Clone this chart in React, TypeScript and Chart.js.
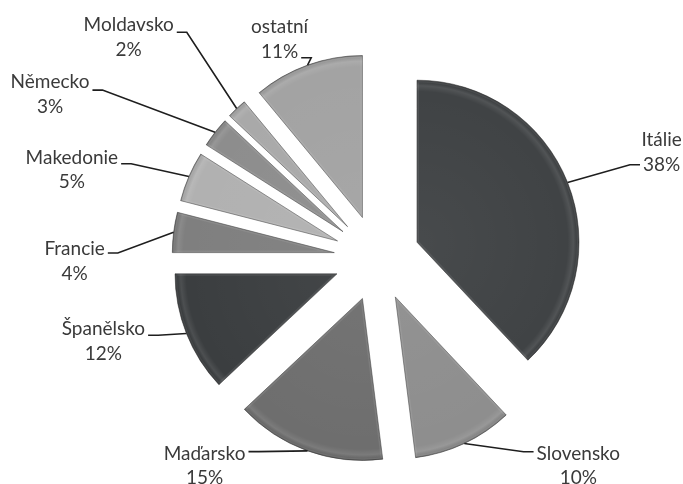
import { useEffect, useRef } from "react";
import { Chart, ArcElement, PieController } from "chart.js";

Chart.register(ArcElement, PieController);

// ---- data ----
const categories = ["Itálie", "Slovensko", "Maďarsko", "Španělsko", "Francie", "Makedonie", "Německo", "Moldavsko", "ostatní"];
const shares = [38, 10, 15, 12, 4, 5, 3, 2, 11];
const percentLabels = ["38%", "10%", "15%", "12%", "4%", "5%", "3%", "2%", "11%"];

// ---- styles / layout ----
const sliceColors = ["#404345", "#8e8e8e", "#6e6e6e", "#3b3e40", "#7f7f7f", "#b1b1b1", "#8d8d8d", "#a9a9a9", "#a3a3a3"];
// label block centre offset from the slice's outer mid point, which text line the leader meets, and its vertical shift
const labelDx = [94, 114, -103, -83, -99, -117, -165, -108, -28];
const labelDy = [-30, 22.5, 15, 8, 29, -6.6, -38, -71, -25.6];
const leaderLine = [1, 0, 0, 0, 0, 0, 0, 0, 1];
const leaderDy = [0, -2, -2, 6, 4, 6, 8, 7, 6];

const EXPLODE = 43;
const RADIUS = 162;
const FONT = "19px Lato, 'Liberation Sans', sans-serif";
const LINE_GAP = 24.5;

const explodePlugin = {
  id: "explodeSlices",
  beforeDatasetsDraw(chart: any) {
    const { chartArea } = chart;
    const cx = (chartArea.left + chartArea.right) / 2;
    const cy = (chartArea.top + chartArea.bottom) / 2;
    chart.getDatasetMeta(0).data.forEach((arc: any) => {
      const mid = (arc.startAngle + arc.endAngle) / 2;
      arc.x = cx + Math.cos(mid) * EXPLODE;
      arc.y = cy + Math.sin(mid) * EXPLODE;
    });
  },
};

const bevelPlugin = {
  id: "bevelSlices",
  afterDatasetsDraw(chart: any) {
    const ctx = chart.ctx as CanvasRenderingContext2D;
    chart.getDatasetMeta(0).data.forEach((arc: any) => {
      const { x, y, startAngle, endAngle, outerRadius } = arc;
      ctx.save();
      ctx.beginPath();
      ctx.moveTo(x, y);
      ctx.arc(x, y, outerRadius, startAngle, endAngle);
      ctx.closePath();
      const g = ctx.createRadialGradient(x, y, 0, x, y, outerRadius);
      g.addColorStop(0, "rgba(255,255,255,0.04)");
      g.addColorStop(0.93, "rgba(255,255,255,0)");
      g.addColorStop(0.965, "rgba(255,255,255,0.09)");
      g.addColorStop(0.99, "rgba(0,0,0,0.08)");
      g.addColorStop(1, "rgba(0,0,0,0.3)");
      ctx.fillStyle = g;
      ctx.fill();
      ctx.clip();
      ctx.lineWidth = 4;
      ctx.strokeStyle = "rgba(255,255,255,0.08)";
      ctx.stroke();
      ctx.restore();
    });
  },
};

const labelPlugin = {
  id: "sliceLabels",
  afterDatasetsDraw(chart: any) {
    const ctx = chart.ctx as CanvasRenderingContext2D;
    ctx.save();
    ctx.font = FONT;
    ctx.textAlign = "center";
    ctx.textBaseline = "middle";
    chart.getDatasetMeta(0).data.forEach((arc: any, i: number) => {
      const mid = (arc.startAngle + arc.endAngle) / 2;
      const ex = arc.x + Math.cos(mid) * arc.outerRadius;
      const ey = arc.y + Math.sin(mid) * arc.outerRadius;
      const tx = ex + labelDx[i];
      const ty = ey + labelDy[i];
      const lines = [categories[i], percentLabels[i]];
      const ys = [ty - LINE_GAP / 2, ty + LINE_GAP / 2];
      const L = leaderLine[i];
      const w = ctx.measureText(lines[L]).width;
      const right = tx > ex;
      const ax = right ? tx - w / 2 - 3 : tx + w / 2 + 3;
      const kx = right ? ax - 10 : ax + 10;
      const ay = ys[L] + leaderDy[i];
      ctx.beginPath();
      ctx.moveTo(ex, ey);
      ctx.lineTo(kx, ay);
      ctx.lineTo(ax, ay);
      ctx.lineWidth = 1.6;
      ctx.strokeStyle = "#1e1e1e";
      ctx.stroke();
      ctx.fillStyle = "#3a3a3a";
      ctx.fillText(lines[0], tx, ys[0]);
      ctx.fillText(lines[1], tx, ys[1]);
    });
    ctx.restore();
  },
};

export default function App() {
  const ref = useRef<HTMLCanvasElement | null>(null);
  useEffect(() => {
    if (!ref.current) return;
    const chart = new Chart(ref.current, {
      type: "pie",
      data: {
        labels: categories,
        datasets: [
          {
            data: shares,
            backgroundColor: sliceColors,
            borderColor: "rgba(30,30,30,0.45)",
            borderWidth: 1,
            radius: RADIUS,
          } as any,
        ],
      },
      options: {
        animation: false,
        responsive: false,
        events: [],
        layout: { padding: { left: 71, top: 32, right: 0, bottom: 0 } },
        plugins: { legend: { display: false }, tooltip: { enabled: false } } as any,
      },
      plugins: [explodePlugin, bevelPlugin, labelPlugin],
    });
    return () => chart.destroy();
  }, []);
  return (
    <div style={{ position: "fixed", left: 0, top: 0, width: 683, height: 484, background: "#fff" }}>
      <canvas ref={ref} width={683} height={484} style={{ width: 683, height: 484, display: "block" }} />
    </div>
  );
}
